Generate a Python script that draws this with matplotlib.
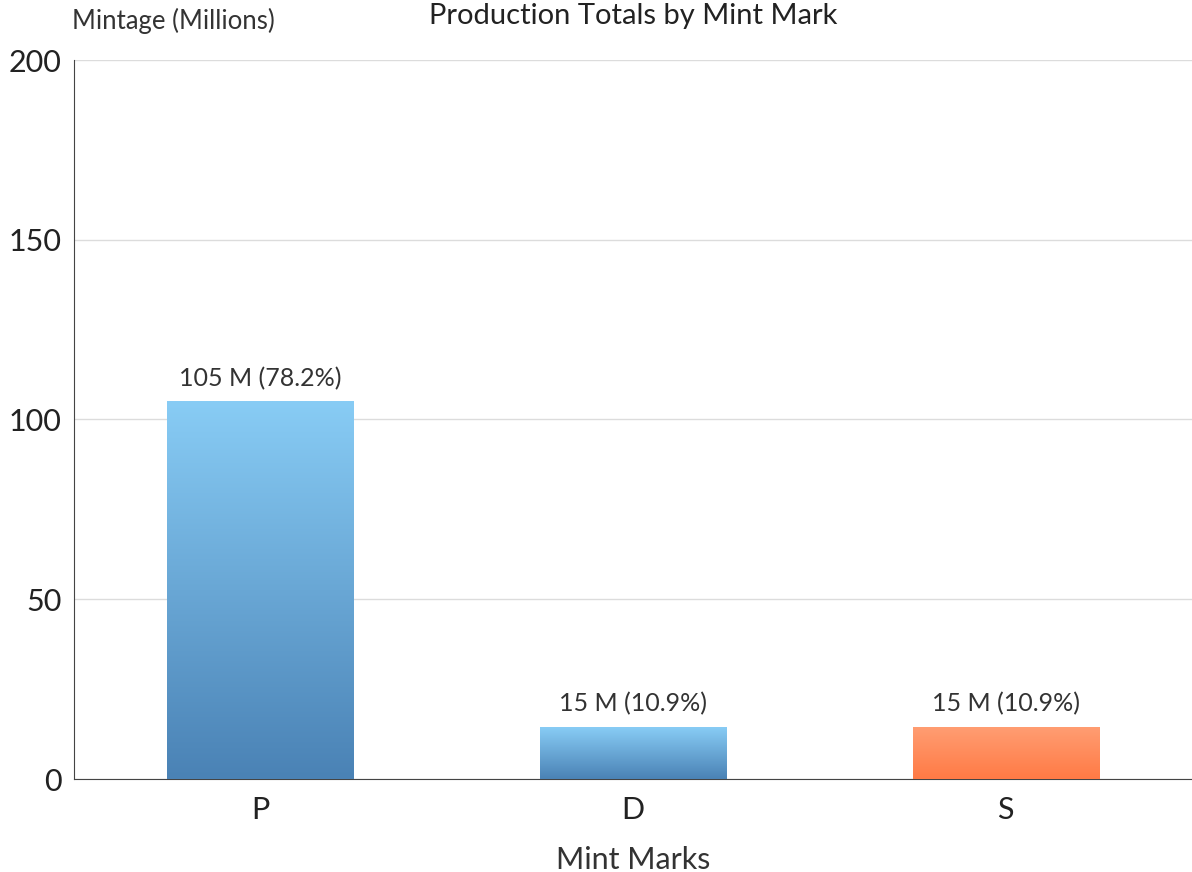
import matplotlib.pyplot as plt
import numpy as np
from matplotlib.colors import LinearSegmentedColormap

plt.rcParams['font.family'] = ['Lato', 'DejaVu Sans']

# data
mint_marks = ['P', 'D', 'S']
mintage = [104.9, 14.3, 14.3]
labels = ['105 M (78.2%)', '15 M (10.9%)', '15 M (10.9%)']
bar_colors = [('#4a82b5', '#88ccf5'), ('#4a82b5', '#88ccf5'), ('#ff7a45', '#ff9d72')]

fig = plt.figure(figsize=(11.92, 8.72), dpi=100)

ax = fig.add_axes([74 / 1192, 1 - 779 / 872, 1 - 74 / 1192, (779 - 60) / 872])

x = np.arange(len(mint_marks))
width = 0.5
grad = np.linspace(0, 1, 256).reshape(-1, 1)
for xi, val, (c0, c1), lab in zip(x, mintage, bar_colors, labels):
    cmap = LinearSegmentedColormap.from_list('g', [c0, c1])
    ax.imshow(grad, extent=[xi - width / 2, xi + width / 2, 0, val], origin='lower',
              cmap=cmap, aspect='auto', zorder=3)
    ax.text(xi, val + 3.3, lab, ha='center', va='bottom', fontsize=18, color='#333333', zorder=4)

ax.set_xlim(-0.5, 2.5)
ax.set_ylim(0, 200)
ax.set_yticks([0, 50, 100, 150, 200])
ax.set_xticks(x)
ax.set_xticklabels(mint_marks)
ax.tick_params(axis='both', length=0, labelsize=22, colors='#222222')
ax.tick_params(axis='y', pad=9)
ax.tick_params(axis='x', pad=12)
ax.yaxis.grid(True, color='#dcdcdc', linewidth=1)
ax.set_axisbelow(True)
for s in ['top', 'right']:
    ax.spines[s].set_visible(False)
ax.spines['left'].set_color('#444444')
ax.spines['bottom'].set_color('#444444')

ax.set_xlabel('Mint Marks', fontsize=22, color='#333333', labelpad=16)
fig.text(72 / 1192, 1 - 21 / 872, 'Mintage (Millions)', fontsize=18.5, color='#333333',
         ha='left', va='center')
fig.text(633 / 1192, 1 - 3 / 872, 'Production Totals by Mint Mark', fontsize=21,
         color='#222222', ha='center', va='top')

fig.savefig('out.png', dpi=100)
